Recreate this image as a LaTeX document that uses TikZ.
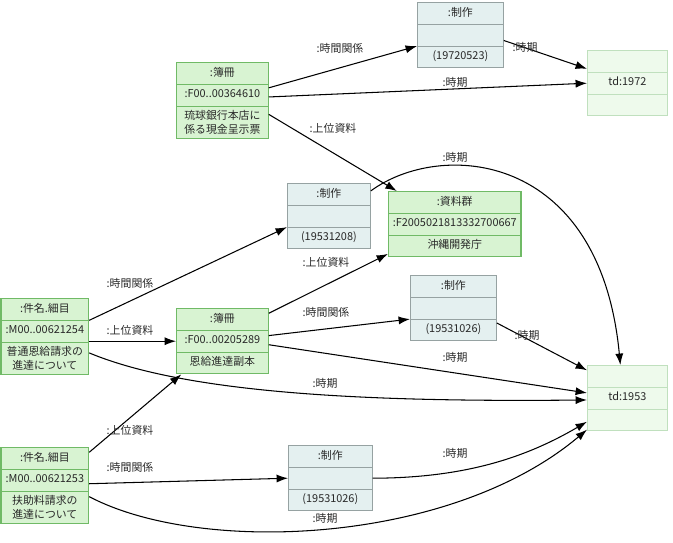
\documentclass[tikz,border=0pt]{standalone}
\usepackage{fontspec}
\setmainfont{Noto Sans CJK JP}
\usepackage{tikz}
\usetikzlibrary{shapes.multipart, arrows.meta}

\definecolor{recfill}{RGB}{216,243,210}
\definecolor{recline}{RGB}{112,186,102}
\definecolor{workfill}{RGB}{228,240,240}
\definecolor{workline}{RGB}{150,162,162}
\definecolor{tdfill}{RGB}{238,250,236}
\definecolor{tdline}{RGB}{192,224,190}
\definecolor{ink}{RGB}{40,40,40}

\tikzset{
  objbox/.style={rectangle split, rectangle split parts=3, anchor=north west, line width=0.6pt, inner xsep=2pt, inner ysep=2pt, align=center, text=ink, font=\fontsize{6.2}{7.8}\selectfont},
  recordbox/.style={objbox, draw=recline, fill=recfill},
  workbox/.style={objbox, draw=workline, fill=workfill},
  timebox/.style={objbox, draw=tdline, fill=tdfill},
  arrow/.style={line width=0.6pt, -{Latex[length=6.5pt,width=4.6pt]}},
  lbl/.style={font=\fontsize{6.2}{7.8}\selectfont, text=ink, inner sep=1pt}
}

\begin{document}
\begin{tikzpicture}[x={(0.02cm,0)}, y={(0,-0.02cm)}]
    \useasboundingbox (0,0) rectangle (673,542);

    % 1. Objetos de la parte superior
    \node[recordbox, text width=48.2pt] (B1) at (176,62)
        {\strut:簿冊\nodepart{two}\strut:F00..00364610\nodepart{three}\strut 琉球銀行本店に\\係る現金呈示票};
    \node[workbox, text width=44.8pt] (S1) at (417,2)
        {\strut:制作\nodepart{two}\strut\nodepart{three}\strut(19720523)};
    \node[timebox, text width=41.4pt] (T1) at (587,50)
        {\strut\nodepart{two}\strut td:1972\nodepart{three}\strut};

    % 2. Objetos centrales
    \node[workbox, text width=43.1pt] (S2) at (287,183)
        {\strut:制作\nodepart{two}\strut\nodepart{three}\strut(19531208)};
    \node[recordbox, text width=71.4pt] (G) at (388,191)
        {\strut:資料群\nodepart{two}\strut:F2005021813332700667\nodepart{three}\strut 沖縄開発庁};
    \node[recordbox, text width=45.9pt] (K1) at (0.5,298)
        {\strut:件名.細目\nodepart{two}\strut:M00..00621254\nodepart{three}\strut 普通恩給請求の\\進達について};
    \node[recordbox, text width=48.2pt] (B2) at (176,308)
        {\strut:簿冊\nodepart{two}\strut:F00..00205289\nodepart{three}\strut 恩給進達副本};
    \node[workbox, text width=44.8pt] (S3) at (410,275)
        {\strut:制作\nodepart{two}\strut\nodepart{three}\strut(19531026)};
    \node[timebox, text width=41.4pt] (T2) at (587,365)
        {\strut\nodepart{two}\strut td:1953\nodepart{three}\strut};

    % 3. Objetos de la parte inferior
    \node[recordbox, text width=45.9pt] (K2) at (0.5,447)
        {\strut:件名.細目\nodepart{two}\strut:M00..00621253\nodepart{three}\strut 扶助料請求の\\進達について};
    \node[workbox, text width=43.6pt] (S4) at (288,445)
        {\strut:制作\nodepart{two}\strut\nodepart{three}\strut(19531026)};

    % ==========================================
    % 4. Relaciones
    % ==========================================
    \draw[arrow] ([yshift=-2pt]B1.text split east) -- (S1.two split west);
    \node[lbl] (l1) at (340,48) {:時間関係};
    \draw[arrow] ([yshift=-3pt]S1.two east) -- ([yshift=2pt]T1.text split west);
    \node[lbl] (l2) at (525,47) {:時期};
    \draw[arrow] ([yshift=-1pt]B1.two east) -- (T1.two west);
    \node[lbl] (l3) at (455,82) {:時期};
    \draw[arrow] ([yshift=4.5pt]B1.three east) -- ([xshift=5pt]G.north west);
    \node[lbl] (l4) at (333,128) {:上位資料};

    \draw[arrow] ([yshift=2pt]S2.text east) .. controls (440,140) and (600,150) .. ([xshift=-4pt]T2.north);
    \node[lbl] (l5) at (455,157) {:時期};
    \draw[arrow] (K1.text split east) -- (S2.two split west);
    \node[lbl] (l6) at (130,283) {:時間関係};
    \draw[arrow] ([yshift=-3pt]B2.north east) -- ([yshift=2pt]G.south west);
    \node[lbl] (l7) at (326,262) {:上位資料};
    \draw[arrow] ([yshift=-3pt]B2.text split east) -- (S3.two split west);
    \node[lbl] (l8) at (326,312) {:時間関係};
    \draw[arrow] ([yshift=4pt]S3.three east) -- ([yshift=-3pt]T2.north west);
    \node[lbl] (l9) at (527,335) {:時期};
    \draw[arrow] ([yshift=-2pt]B2.two east) -- ([yshift=3pt]T2.two west);
    \node[lbl] (l10) at (455,357) {:時期};
    \draw[arrow] (B2.two west -| K1.east) -- (B2.two west);
    \node[lbl] (l11) at (130,330) {:上位資料};
    % pasa por debajo del segundo 簿冊
    \draw[arrow] ([yshift=3pt]K1.three east) .. controls (190,395) and (380,402) .. ([yshift=-1pt]T2.two west);
    \node[lbl] (l12) at (325,383) {:時期};

    \draw[arrow] ([yshift=-3pt]K2.north east) -- ([xshift=3pt]B2.south west);
    \node[lbl] (l13) at (130,430) {:上位資料};
    \draw[arrow] ([yshift=-2pt]K2.two east) -- (S4.two west);
    \node[lbl] (l14) at (130,467) {:時間関係};
    \draw[arrow] (S4.two east) .. controls (470,478) and (530,455) .. ([yshift=-1pt]T2.three west);
    \node[lbl] (l15) at (455,453) {:時期};
    \draw[arrow] ([yshift=6pt]K2.three east) .. controls (200,555) and (450,545) .. ([yshift=1pt]T2.south west);
    \node[lbl] (l16) at (325,518) {:時期};

\end{tikzpicture}
\end{document}
